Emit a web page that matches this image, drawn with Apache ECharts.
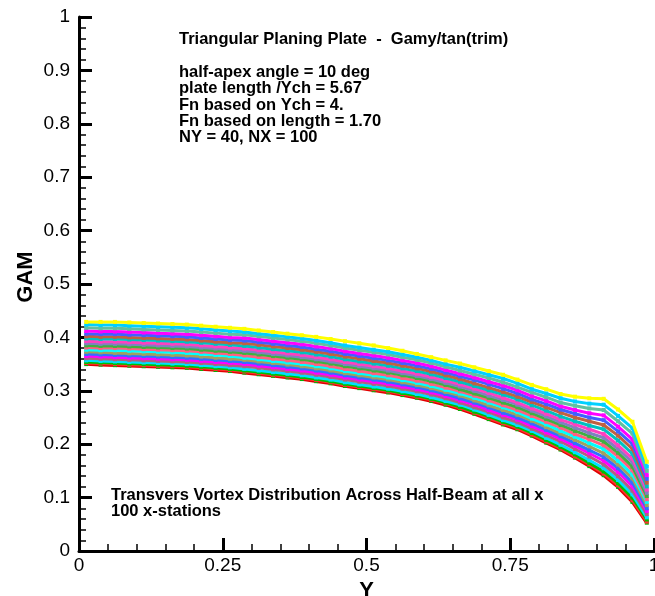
<!DOCTYPE html>
<html>
<head>
<meta charset="utf-8">
<script src="https://cdn.jsdelivr.net/npm/echarts@6/dist/echarts.min.js"></script>
<style>
html,body{margin:0;padding:0;background:#fff;}
#chart{width:655px;height:596px;}
</style>
</head>
<body>
<div id="chart"></div>
<script>
// Y stations across the half-beam (NY = 40)
var stations = [.0125,.0375,.0625,.0875,.1125,.1375,.1625,.1875,.2125,.2375,.2625,.2875,.3125,.3375,.3625,.3875,.4125,.4375,.4625,.4875,.5125,.5375,.5625,.5875,.6125,.6375,.6625,.6875,.7125,.7375,.7625,.7875,.8125,.8375,.8625,.8875,.9125,.9375,.9625,.9875];

// GAM curves (a subset of the x-stations, bottom to top)
var gamL00 = [.350,.349,.348,.347,.346,.345,.344,.343,.341,.339,.337,.334,.331,.328,.325,.322,.318,.314,.309,.305,.301,.297,.292,.287,.281,.274,.266,.257,.247,.237,.228,.216,.203,.190,.175,.159,.142,.120,.092,.053];
var gamL01 = [.352,.351,.350,.349,.348,.347,.346,.345,.343,.341,.339,.336,.333,.330,.327,.324,.320,.316,.311,.307,.303,.299,.294,.289,.283,.276,.268,.259,.249,.239,.230,.218,.205,.192,.177,.162,.145,.123,.095,.055];
var gamL02 = [.354,.353,.352,.351,.350,.349,.348,.347,.345,.343,.341,.338,.335,.332,.329,.326,.322,.318,.313,.309,.305,.301,.296,.291,.285,.278,.270,.261,.252,.242,.233,.221,.208,.195,.181,.165,.149,.127,.100,.059];
var gamL03 = [.357,.356,.355,.354,.353,.352,.351,.350,.348,.346,.344,.341,.338,.335,.332,.329,.325,.321,.316,.312,.308,.304,.299,.294,.288,.281,.274,.265,.255,.245,.236,.225,.212,.199,.185,.170,.155,.133,.106,.063];
var gamL04 = [.361,.360,.359,.358,.357,.356,.355,.354,.352,.350,.348,.346,.343,.340,.337,.334,.330,.326,.321,.317,.313,.309,.304,.299,.293,.286,.278,.269,.260,.250,.241,.229,.217,.205,.191,.177,.162,.140,.113,.069];
var gamL05 = [.365,.364,.363,.362,.361,.360,.359,.358,.356,.354,.352,.350,.347,.344,.341,.338,.334,.330,.325,.321,.317,.313,.308,.303,.297,.290,.282,.274,.264,.255,.246,.234,.222,.210,.197,.183,.169,.148,.121,.075];
var gamL06 = [.369,.368,.367,.366,.365,.364,.363,.362,.360,.358,.356,.354,.351,.348,.345,.342,.338,.334,.329,.325,.321,.317,.312,.307,.301,.294,.286,.278,.269,.259,.250,.239,.227,.215,.202,.189,.176,.155,.128,.080];
var gamL07 = [.373,.372,.371,.370,.369,.368,.367,.366,.364,.362,.360,.358,.355,.352,.349,.346,.342,.338,.333,.329,.325,.321,.316,.311,.305,.298,.291,.282,.273,.264,.255,.244,.232,.220,.208,.196,.183,.162,.136,.086];
var gamL08 = [.377,.376,.376,.375,.374,.373,.372,.371,.369,.367,.365,.362,.359,.356,.353,.350,.346,.342,.337,.333,.329,.325,.320,.315,.309,.302,.295,.287,.278,.269,.260,.248,.237,.225,.214,.202,.191,.169,.143,.092];
var gamL09 = [.381,.380,.380,.379,.378,.377,.376,.375,.373,.371,.369,.366,.363,.360,.357,.354,.350,.346,.341,.337,.333,.329,.324,.319,.313,.306,.299,.291,.282,.273,.264,.253,.242,.231,.219,.209,.198,.177,.151,.097];
var gamL10 = [.385,.384,.384,.383,.382,.381,.380,.379,.377,.375,.373,.371,.368,.365,.362,.359,.355,.351,.346,.342,.338,.334,.329,.324,.318,.311,.303,.295,.287,.278,.269,.258,.247,.236,.225,.215,.205,.184,.158,.103];
var gamL11 = [.389,.388,.388,.387,.386,.385,.384,.383,.381,.379,.377,.375,.372,.369,.366,.363,.359,.355,.350,.346,.342,.338,.333,.328,.322,.315,.308,.300,.291,.283,.274,.263,.252,.241,.231,.221,.212,.191,.166,.109];
var gamL12 = [.393,.392,.392,.391,.390,.389,.388,.387,.385,.383,.381,.379,.376,.373,.370,.367,.363,.359,.354,.350,.346,.342,.337,.332,.326,.319,.312,.304,.296,.287,.278,.267,.257,.246,.237,.228,.219,.198,.173,.115];
var gamL13 = [.398,.397,.397,.396,.395,.394,.393,.392,.390,.388,.386,.384,.381,.378,.375,.372,.368,.364,.359,.355,.351,.347,.342,.337,.331,.324,.317,.309,.301,.293,.284,.273,.263,.252,.243,.235,.228,.207,.182,.121];
var gamL14 = [.402,.401,.401,.400,.399,.398,.397,.396,.394,.392,.390,.389,.386,.383,.380,.377,.373,.369,.364,.360,.356,.352,.347,.342,.336,.329,.322,.314,.306,.298,.289,.279,.269,.259,.250,.243,.236,.216,.191,.128];
var gamL15 = [.407,.406,.406,.405,.404,.403,.402,.401,.399,.397,.395,.394,.391,.388,.385,.382,.378,.374,.369,.365,.361,.357,.352,.347,.341,.334,.327,.320,.312,.304,.295,.284,.275,.265,.257,.250,.245,.224,.200,.135];
var gamL16 = [.412,.411,.411,.410,.409,.408,.407,.406,.404,.402,.400,.399,.396,.393,.390,.387,.383,.379,.374,.370,.366,.362,.357,.352,.346,.339,.332,.325,.317,.310,.301,.290,.281,.271,.264,.258,.254,.233,.209,.142];
var gamL17 = [.418,.417,.417,.416,.415,.414,.413,.412,.410,.408,.406,.405,.402,.399,.396,.393,.389,.385,.380,.376,.372,.368,.363,.358,.352,.345,.338,.331,.324,.316,.307,.297,.288,.278,.272,.267,.264,.243,.220,.150];
var gamL18 = [.424,.423,.423,.422,.421,.420,.419,.418,.416,.414,.412,.410,.407,.404,.401,.398,.394,.390,.385,.381,.377,.373,.368,.363,.357,.350,.344,.337,.330,.323,.314,.303,.295,.286,.280,.276,.274,.253,.230,.158];
var gamL19 = [.429,.429,.429,.428,.427,.426,.425,.424,.422,.420,.418,.416,.413,.410,.407,.404,.401,.397,.393,.389,.385,.380,.375,.369,.363,.357,.351,.344,.337,.330,.321,.311,.303,.294,.289,.286,.285,.265,.242,.167];

var gamLines = [gamL00,gamL01,gamL02,gamL03,gamL04,gamL05,gamL06,gamL07,gamL08,gamL09,gamL10,gamL11,gamL12,gamL13,gamL14,gamL15,gamL16,gamL17,gamL18,gamL19];

var xTicks = [0, 0.25, 0.5, 0.75, 1];
var yTicks = [0, 0.1, 0.2, 0.3, 0.4, 0.5, 0.6, 0.7, 0.8, 0.9, 1];

var lineColors = ['#e00000','#ff3030','#00c000','#00e0ff','#b06080','#ff00ff','#3070ff','#a0a060','#00ffff','#ff6080',
                  '#40b040','#8080c0','#ff40c0','#00c0c0','#c06040','#4060ff','#ff00ff','#60c0a0','#00d0ff','#ffff00'];

var FONT = "'Liberation Sans', Arial, Helvetica, sans-serif";

var series = gamLines.map(function (vals, k) {
  return {
    type: 'line',
    data: stations.map(function (s, i) { return [s, vals[i]]; }),
    symbol: 'rect',
    symbolSize: 4,
    showSymbol: true,
    lineStyle: { color: lineColors[k], width: k === 0 ? 3.5 : 3 },
    itemStyle: { color: k === 0 ? '#00b000' : lineColors[k] },
    emphasis: { disabled: true },
    silent: true,
    z: 2 + k
  };
});

var chart = echarts.init(document.getElementById('chart'), null, { renderer: 'canvas' });

var textStyleBold = { fontFamily: FONT, fontWeight: 'bold', fontSize: 16.5, fill: '#000' };

chart.setOption({
  animation: false,
  backgroundColor: '#fff',
  grid: { left: 79, right: 1, top: 17, bottom: 45, containLabel: false, outerBoundsMode: 'none' },
  xAxis: {
    type: 'value',
    min: xTicks[0], max: xTicks[xTicks.length - 1], interval: 0.25,
    name: 'Y', nameLocation: 'middle', nameGap: 23,
    nameTextStyle: { fontFamily: FONT, fontWeight: 'bold', fontSize: 22, color: '#000' },
    axisLine: { show: true, lineStyle: { color: '#000', width: 3 } },
    axisTick: { show: true, inside: true, length: 13, lineStyle: { color: '#000', width: 3 } },
    minorTick: { show: true, splitNumber: 5, length: 7, lineStyle: { color: '#000', width: 1.5 } },
    axisLabel: { fontFamily: FONT, fontSize: 19, color: '#000', margin: 5,
      formatter: function (v) { return String(v); } },
    splitLine: { show: false }
  },
  yAxis: {
    type: 'value',
    min: yTicks[0], max: yTicks[yTicks.length - 1], interval: 0.1,
    axisLine: { show: true, lineStyle: { color: '#000', width: 3 } },
    axisTick: { show: true, inside: true, length: 13, lineStyle: { color: '#000', width: 3 } },
    minorTick: { show: true, splitNumber: 5, length: 7, lineStyle: { color: '#000', width: 1.5 } },
    axisLabel: { fontFamily: FONT, fontSize: 19, color: '#000', margin: 9,
      formatter: function (v) { return String(Math.round(v * 10) / 10); } },
    splitLine: { show: false }
  },
  series: series,
  graphic: [
    { type: 'text', x: 26, y: 277, rotation: Math.PI / 2,
      style: { text: 'GAM', fontFamily: FONT, fontWeight: 'bold', fontSize: 22, fill: '#000', align: 'center', verticalAlign: 'middle' } },
    { type: 'text', left: 179, top: 31, style: Object.assign({ text: 'Triangular Planing Plate  -  Gamy/tan(trim)' }, textStyleBold) },
    { type: 'text', left: 179, top: 64, style: Object.assign({ text: 'half-apex angle = 10 deg' }, textStyleBold) },
    { type: 'text', left: 179, top: 80, style: Object.assign({ text: 'plate length /Ych = 5.67' }, textStyleBold) },
    { type: 'text', left: 179, top: 96.5, style: Object.assign({ text: 'Fn based on Ych = 4.' }, textStyleBold) },
    { type: 'text', left: 179, top: 113, style: Object.assign({ text: 'Fn based on length = 1.70' }, textStyleBold) },
    { type: 'text', left: 179, top: 129, style: Object.assign({ text: 'NY = 40, NX = 100' }, textStyleBold) },
    { type: 'text', left: 111, top: 487, style: Object.assign({ text: 'Transvers Vortex Distribution Across Half-Beam at all x' }, textStyleBold) },
    { type: 'text', left: 111, top: 503, style: Object.assign({ text: '100 x-stations' }, textStyleBold) }
  ]
});
</script>
</body>
</html>
